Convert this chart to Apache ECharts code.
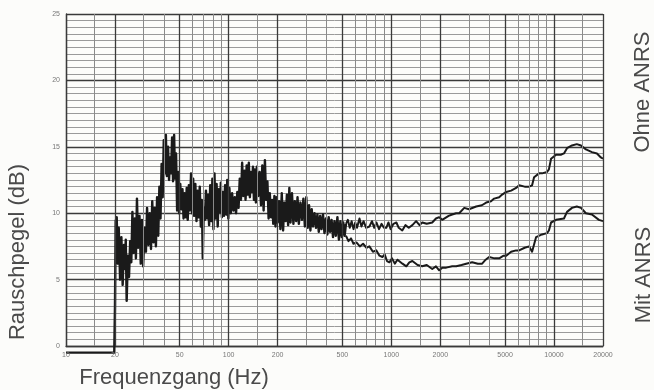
<!DOCTYPE html>
<html>
<head>
<meta charset="utf-8">
<script src="https://cdn.jsdelivr.net/npm/echarts@6/dist/echarts.min.js"></script>
<style>
	html, body { margin: 0; padding: 0; background: #fcfcfa; }
	#chart { width: 654px; height: 390px; }
</style>
</head>
<body>
<div id="chart"></div>
<script>
// Frequenzachse (Hz): beschriftete und feine Gitterlinien
var majorFreqs = [10, 20, 50, 100, 200, 500, 1000, 2000, 5000, 10000, 20000];
var minorFreqs = [15, 30, 40, 60, 70, 80, 90, 150, 300, 400, 600, 700, 800, 900,
	1500, 3000, 4000, 6000, 7000, 8000, 9000, 15000];
var levelTicks = [0, 5, 10, 15, 20, 25];

// gemeinsamer Verlauf bis ca. 500 Hz [Hz, dB]
var sharedTrace = [
	[10, -0.5], [19.8, -0.5], [20.0, 3.0], [20.2, 9.4], [20.5, 9.7], [20.8, 6.2], [21.1, 8.9], [21.5, 5.0],
	[21.9, 8.2], [22.3, 4.6], [22.7, 7.6], [23.0, 5.8], [23.3, 8.0], [23.6, 3.4], [24.0, 6.8], [24.4, 5.2],
	[24.8, 7.9], [25.2, 6.3], [25.6, 10.1], [26.0, 7.0], [26.5, 9.6], [26.9, 6.6], [27.3, 11.1], [27.8, 7.4],
	[28.3, 9.8], [28.8, 6.2], [29.3, 9.5], [29.8, 6.0], [30.4, 8.9], [31.0, 7.1], [31.5, 10.4], [32.1, 7.6],
	[32.7, 10.0], [33.3, 7.3], [33.9, 10.9], [34.5, 7.8], [35.1, 10.4], [35.7, 7.5], [36.3, 11.2], [36.9, 8.3],
	[37.5, 12.0], [38.1, 9.6], [38.7, 13.7], [39.3, 11.2], [39.9, 15.5], [40.5, 13.0], [41.1, 15.9], [41.7, 12.8],
	[42.4, 15.0], [43.0, 12.5], [43.6, 14.2], [44.2, 13.0], [44.9, 15.7], [45.5, 12.4], [46.2, 15.9], [46.8, 12.6],
	[47.5, 14.5], [48.2, 10.2], [48.9, 13.1], [49.6, 10.0], [50.4, 12.2], [51.2, 10.3], [52.0, 11.8], [52.8, 9.6],
	[53.6, 11.5], [54.4, 9.7], [55.2, 11.9], [56.0, 9.5], [56.9, 12.1], [57.8, 10.2], [58.7, 13.0], [59.6, 10.0],
	[60.5, 12.6], [61.4, 9.8], [62.4, 12.2], [63.4, 9.4], [64.4, 11.7], [65.4, 9.7], [66.4, 12.0], [67.4, 9.0],
	[68.4, 11.0], [69.3, 6.6], [70.3, 10.4], [71.4, 9.5], [72.5, 11.7], [73.6, 9.6], [74.7, 11.4], [75.8, 9.1],
	[77.0, 12.1], [78.2, 9.4], [79.4, 12.6], [80.6, 8.8], [81.8, 13.0], [83.0, 9.6], [84.3, 12.2], [85.6, 9.0],
	[86.9, 11.8], [88.2, 10.1], [89.5, 12.3], [90.8, 9.7], [92.2, 11.6], [93.6, 9.8], [95.0, 12.1], [96.5, 9.9],
	[98.0, 12.5], [99.5, 9.6], [101, 11.9], [103, 10.0], [105, 11.5], [107, 10.2], [109, 11.2], [111, 10.0],
	[113, 11.6], [115, 10.4], [117, 12.6], [119, 11.0], [121, 13.8], [123, 11.3], [125, 13.2], [127, 11.0],
	[129, 13.6], [131, 11.4], [133, 13.8], [135, 11.2], [137, 13.1], [139, 11.6], [141, 13.5], [143, 11.0],
	[145, 13.3], [147, 10.8], [149, 13.5], [152, 11.3], [155, 13.1], [158, 10.6], [161, 13.6], [164, 10.2],
	[167, 14.0], [170, 11.0], [173, 12.4], [176, 9.6], [179, 11.5], [182, 9.7], [185, 11.0], [188, 9.2],
	[191, 11.3], [194, 9.0], [197, 11.2], [200, 9.3], [204, 10.9], [208, 8.8], [212, 11.5], [216, 8.7],
	[220, 10.8], [224, 9.4], [228, 11.4], [232, 9.1], [236, 11.9], [240, 9.3], [245, 11.5], [250, 9.2],
	[255, 10.9], [260, 9.4], [265, 11.2], [270, 9.2], [276, 10.8], [282, 9.5], [288, 11.1], [294, 9.0],
	[300, 11.2], [306, 8.9], [312, 10.6], [318, 8.7], [324, 10.3], [330, 9.0], [337, 10.0], [344, 8.9],
	[351, 9.9], [358, 8.6], [365, 9.8], [372, 8.8], [380, 9.9], [388, 8.5], [396, 9.6], [404, 8.4],
	[412, 9.7], [420, 8.6], [429, 9.5], [438, 8.2], [447, 9.4], [456, 8.3], [466, 9.7], [476, 8.0],
	[486, 9.4], [496, 8.2], [506, 9.3], [516, 8.3], [526, 9.2]
];

// Ohne ANRS (obere Kurve)
var ohneTrace = [
	[526, 9.2], [540, 9.5], [555, 8.9], [570, 9.4], [585, 8.8], [600, 9.3], [615, 8.9], [637, 9.6],
	[655, 9.0], [675, 9.4], [700, 8.9], [733, 9.0], [760, 9.4], [785, 8.9], [809, 9.3], [840, 8.8],
	[870, 9.2], [900, 8.9], [931, 8.9], [960, 9.3], [990, 8.8], [1030, 9.2], [1074, 9.3], [1110, 8.9],
	[1167, 8.7], [1220, 9.1], [1280, 8.9], [1346, 9.1], [1420, 9.4], [1490, 9.1], [1549, 9.3], [1650, 9.2],
	[1784, 9.3], [1880, 9.6], [1968, 9.7], [2055, 9.5], [2114, 9.5], [2250, 9.8], [2366, 9.9], [2500, 10.0],
	[2612, 10.0], [2806, 10.4], [3000, 10.3], [3322, 10.5], [3600, 10.6], [3828, 10.8], [4100, 10.9], [4285, 11.1],
	[4600, 11.2], [4799, 11.4], [5083, 11.6], [5450, 11.7], [5848, 11.9], [6097, 12.1], [6600, 12.0], [7030, 12.0],
	[7330, 12.1], [7540, 12.7], [8090, 13.0], [8440, 13.0], [9060, 13.1], [9300, 13.3], [9590, 14.1], [10290, 14.4],
	[11000, 14.4], [11510, 14.5], [12020, 14.9], [12890, 15.1], [13800, 15.2], [14650, 15.1], [15710, 14.8], [17100, 14.6],
	[18360, 14.5], [19410, 14.2], [20000, 14.1]
];

// Mit ANRS (untere Kurve)
var mitTrace = [
	[526, 8.3], [545, 7.9], [565, 8.1], [585, 7.7], [610, 7.8], [640, 7.5], [670, 7.7], [703, 7.4],
	[733, 7.5], [770, 7.1], [809, 7.2], [845, 6.8], [881, 6.7], [910, 6.9], [940, 6.4], [973, 6.3],
	[1010, 6.6], [1050, 6.2], [1090, 6.5], [1120, 6.5], [1170, 6.2], [1236, 6.0], [1290, 6.3], [1346, 6.4],
	[1384, 6.5], [1450, 6.1], [1549, 6.0], [1650, 6.1], [1784, 5.8], [1880, 6.0], [1968, 5.7], [2055, 5.9],
	[2174, 5.9], [2366, 6.0], [2505, 6.0], [2700, 6.1], [2884, 6.2], [3141, 6.3], [3400, 6.2], [3614, 6.2],
	[3800, 6.5], [3990, 6.7], [4300, 6.6], [4601, 6.6], [4900, 6.8], [5083, 6.8], [5448, 7.1], [5848, 7.2],
	[6097, 7.2], [6600, 7.4], [7030, 7.5], [7330, 7.1], [7760, 8.2], [8440, 8.4], [9060, 8.5], [9300, 8.7],
	[9590, 9.3], [10290, 9.5], [11510, 9.6], [12020, 10.1], [12890, 10.4], [13800, 10.5], [14650, 10.4], [15710, 10.0],
	[17100, 9.9], [18880, 9.5], [20000, 9.4]
];

var INK = '#1a1a1a';
var TEXT = '#4a4a4a';
var LABEL_FONT = '22px "Liberation Sans"';

// senkrechte Gitterlinien als markLine
var gridLines = [];
majorFreqs.forEach(function (f) {
	gridLines.push({
		xAxis: f,
		lineStyle: { color: '#3a3a3a', width: 1.3, type: 'solid' },
		label: { show: true, formatter: String(f) }
	});
});
minorFreqs.forEach(function (f) {
	gridLines.push({
		xAxis: f,
		lineStyle: { color: '#8a8a8a', width: 1, type: 'solid' },
		label: { show: false }
	});
});

var chart = echarts.init(document.getElementById('chart'), null, { renderer: 'canvas' });

chart.setOption({
	backgroundColor: '#fcfcfa',
	animation: false,
	grid: { left: 66, right: 51, top: 14, bottom: 44 },
	xAxis: {
		type: 'log',
		logBase: 10,
		min: 10,
		max: 20000,
		axisLine: { show: true, lineStyle: { color: '#3a3a3a', width: 1.3 } },
		axisTick: { show: false },
		axisLabel: { show: false },
		splitLine: { show: false }
	},
	yAxis: {
		type: 'value',
		min: 0,
		max: 25,
		interval: 5,
		axisLine: { show: true, lineStyle: { color: '#3a3a3a', width: 1.3 } },
		axisTick: { show: false },
		axisLabel: {
			color: '#777',
			fontSize: 7,
			margin: 6,
			fontFamily: 'Liberation Sans',
			formatter: function (v) { return levelTicks.indexOf(v) >= 0 ? String(v) : ''; }
		},
		splitLine: { show: true, lineStyle: { color: '#3a3a3a', width: 1.3 } },
		minorTick: { show: false, splitNumber: 10 },
		minorSplitLine: { show: true, lineStyle: { color: '#9a9a9a', width: 1 } }
	},
	series: [
		{
			name: 'grid',
			type: 'line',
			data: [],
			z: 1,
			silent: true,
			markLine: {
				silent: true,
				symbol: ['none', 'none'],
				animation: false,
				label: {
					position: 'start',
					distance: 6,
					color: '#777',
					fontSize: 7,
					fontFamily: 'Liberation Sans'
				},
				data: gridLines
			}
		},
		{
			name: 'shared',
			type: 'line',
			data: sharedTrace,
			showSymbol: false,
			clip: false,
			z: 3,
			lineStyle: { color: INK, width: 2.4, join: 'round' }
		},
		{
			name: 'Ohne ANRS',
			type: 'line',
			data: ohneTrace,
			showSymbol: false,
			z: 3,
			lineStyle: { color: INK, width: 2, join: 'round' }
		},
		{
			name: 'Mit ANRS',
			type: 'line',
			data: mitTrace,
			showSymbol: false,
			z: 3,
			lineStyle: { color: INK, width: 2, join: 'round' }
		}
	],
	graphic: [
		{
			type: 'text', x: 18, y: 252, rotation: Math.PI / 2,
			style: { text: 'Rauschpegel (dB)', fill: TEXT, font: LABEL_FONT, textAlign: 'center', textVerticalAlign: 'middle' }
		},
		{
			type: 'text', x: 174, y: 378,
			style: { text: 'Frequenzgang (Hz)', fill: TEXT, font: LABEL_FONT, textAlign: 'center', textVerticalAlign: 'middle' }
		},
		{
			type: 'text', x: 643, y: 92, rotation: Math.PI / 2,
			style: { text: 'Ohne ANRS', fill: TEXT, font: LABEL_FONT, textAlign: 'center', textVerticalAlign: 'middle' }
		},
		{
			type: 'text', x: 644, y: 275, rotation: Math.PI / 2,
			style: { text: 'Mit ANRS', fill: TEXT, font: LABEL_FONT, textAlign: 'center', textVerticalAlign: 'middle' }
		}
	]
});
</script>
</body>
</html>
